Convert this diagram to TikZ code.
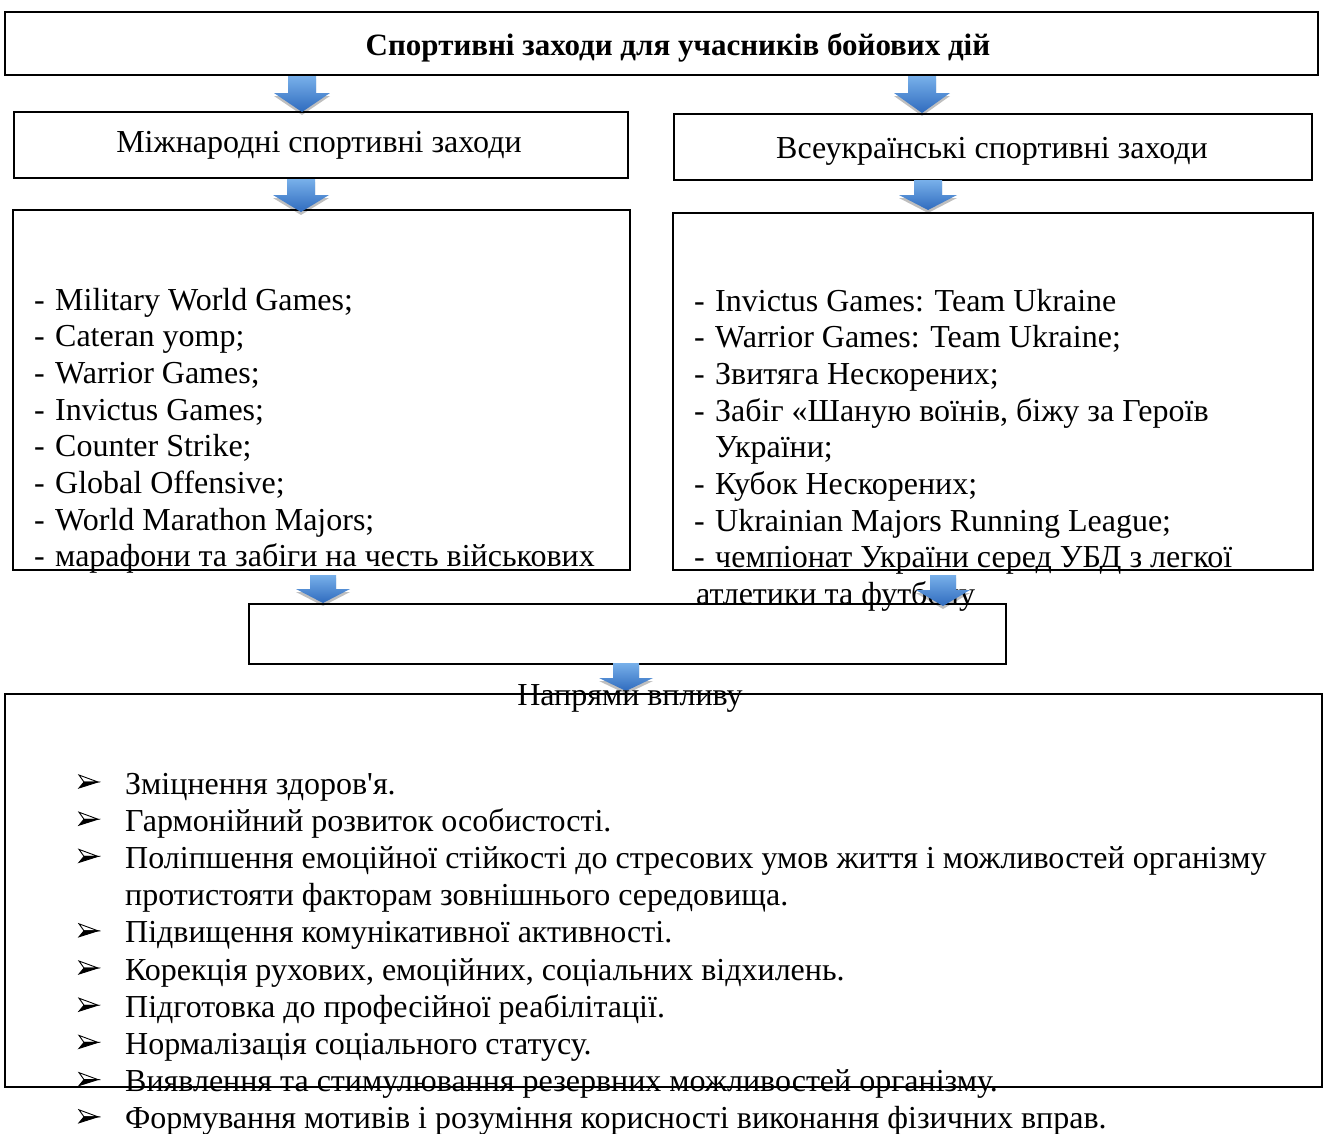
\documentclass[tikz,border=0pt]{standalone}
\usepackage{fontspec}
\setmainfont{Liberation Serif}[Ligatures=TeXOff]
\usetikzlibrary{shadows}
\definecolor{arrlight}{HTML}{78B0EA}
\definecolor{arrdark}{HTML}{2F6BBE}
\tikzset{
  box/.style={draw=black, line width=2pt, fill=white, inner sep=0pt},
  txt/.style={inner sep=0pt, font=\fontsize{32}{37}\selectfont},
  ttl/.style={inner sep=0pt, font=\fontsize{31}{36}\selectfont\bfseries},
  blockarrow/.style={top color=arrlight, bottom color=arrdark, draw=none,
    drop shadow={shadow xshift=0pt, shadow yshift=-3pt, opacity=0.25, fill=black}},
  bulup/.style={draw=black, line width=0.9pt, fill=white, line join=miter},
  buldown/.style={draw=black, line width=0.9pt, fill=black, line join=miter}
}
% cx, ytop, shaft half width, head half width, ymid, ytip
\newcommand{\blockarr}[6]{%
  \path[blockarrow] (#1-#3,#2) -- (#1+#3,#2) -- (#1+#3,#5) -- (#1+#4,#5)
    -- (#1,#6) -- (#1-#4,#5) -- (#1-#3,#5) -- cycle;}
% arrowhead bullet: left x, centre y
\newcommand{\arrbullet}[2]{%
  \path[bulup] (#1,#2-7) -- (#1+19,#2) -- (#1+5,#2) -- cycle;
  \path[buldown] (#1,#2+6) -- (#1+19,#2) -- (#1+5,#2) -- cycle;}
\begin{document}
\begin{tikzpicture}[x=1pt, y=-1pt]
\useasboundingbox[fill=white] (0,0) rectangle (1325,1133);

% boxes
\node[box, line width=2.6pt, minimum width=1313pt, minimum height=63pt] (title) at (661.5,43.5) {};
\node[box, minimum width=614pt, minimum height=66pt] (intl) at (321,145) {};
\node[box, minimum width=638pt, minimum height=66pt] (natl) at (993,147) {};
\node[box, minimum width=617pt, minimum height=360pt] (intlist) at (321.5,390) {};
\node[box, minimum width=640pt, minimum height=357pt] (natlist) at (993,391.5) {};
\node[box, minimum width=757pt, minimum height=60pt] (dirbox) at (627.5,634) {};
\node[box, line width=2.4pt, minimum width=1317pt, minimum height=393pt] (effects) at (663.5,890.5) {};

% headings
\node[ttl, anchor=base] (titletext) at (678,55) {Спортивні заходи для учасників бойових дій};
\node[txt, anchor=base] (intltext) at (319,152) {Міжнародні спортивні заходи};
\node[txt, anchor=base] (natltext) at (992,158) {Всеукраїнські спортивні заходи};

% left list
\foreach \t [count=\i from 0] in {Military World Games;, Cateran yomp;, Warrior Games;, Invictus Games;, Counter Strike;, Global Offensive;, World Marathon Majors;, марафони та забіги на честь військових}
  \node[txt, anchor=base west] (il\i) at (34,310+36.7*\i) {\makebox[21pt][l]{-}\t};

% right list
\node[txt, anchor=base west] (nl0) at (694,311) {\makebox[21pt][l]{-}Invictus Games: Team Ukraine};
\node[txt, anchor=base west] (nl1) at (694,347.7) {\makebox[21pt][l]{-}Warrior Games: Team Ukraine;};
\node[txt, anchor=base west] (nl2) at (694,384.4) {\makebox[21pt][l]{-}Звитяга Нескорених;};
\node[txt, anchor=base west] (nl3) at (694,421.1) {\makebox[21pt][l]{-}Забіг «Шаную воїнів, біжу за Героїв};
\node[txt, anchor=base west] (nl4) at (715,457.8) {України;};
\node[txt, anchor=base west] (nl5) at (694,494.5) {\makebox[21pt][l]{-}Кубок Нескорених;};
\node[txt, anchor=base west] (nl6) at (694,531.2) {\makebox[21pt][l]{-}Ukrainian Majors Running League;};
\node[txt, anchor=base west] (nl7) at (694,567.9) {\makebox[21pt][l]{-}чемпіонат України серед УБД з легкої};
\node[txt, anchor=base west] (nl8) at (696,604.6) {атлетики та футболу};

% arrows
\blockarr{302}{76}{14}{28}{93}{112}
\blockarr{922}{76}{14}{28}{93}{113}
\blockarr{301}{179}{14}{28}{195}{212}
\blockarr{928}{180}{14}{29}{195}{210}
\blockarr{323}{575}{13}{27}{589}{603}
\blockarr{943}{575}{13}{27}{590}{606}
\blockarr{626}{663}{13}{27}{678}{691}

\node[txt, anchor=base] (dirtext) at (630,705) {Напрями впливу};

% bottom list
\foreach \t [count=\i from 0] in {Зміцнення здоров'я., Гармонійний розвиток особистості., Поліпшення емоційної стійкості до стресових умов життя і можливостей організму, , Підвищення комунікативної активності., {Корекція рухових, емоційних, соціальних відхилень.}, Підготовка до професійної реабілітації., Нормалізація соціального статусу., Виявлення та стимулювання резервних можливостей організму., Формування мотивів і розуміння корисності виконання фізичних вправ.}
  {
  \ifnum\i=3\relax
    \node[txt, anchor=base west] (ef\i) at (125,794+37.2*\i) {протистояти факторам зовнішнього середовища.};
  \else
    \arrbullet{79}{782+37.2*\i}
    \node[txt, anchor=base west] (ef\i) at (125,794+37.2*\i) {\t};
  \fi
  }
\end{tikzpicture}
\end{document}
